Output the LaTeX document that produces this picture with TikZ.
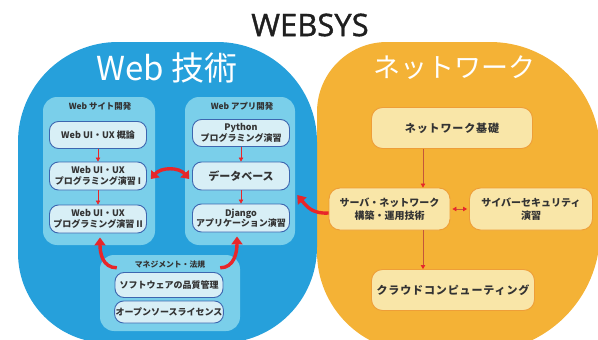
\documentclass[tikz,border=0pt]{standalone}
\usepackage{fontspec}
\setmainfont{Open Sans}
\newfontfamily\titlefont[FakeBold=1.2]{Open Sans}
\newfontfamily\jp{Noto Sans CJK JP}
\newfontfamily\jpw[LetterSpace=8]{Noto Sans CJK JP}
\usetikzlibrary{arrows.meta,calc}
\definecolor{bluebg}{HTML}{26A0DB}
\definecolor{panelc}{HTML}{7ACFEA}
\definecolor{bnodefill}{HTML}{D8EFF6}
\definecolor{bnodeline}{HTML}{3D67B0}
\definecolor{orangebg}{HTML}{F4B236}
\definecolor{onodefill}{HTML}{F9E6A8}
\definecolor{onodeline}{HTML}{EE9E38}
\definecolor{arrred}{HTML}{E8262A}
\definecolor{olinec}{HTML}{C4553A}
\definecolor{txt}{HTML}{333333}
\tikzset{
  panelbox/.style={fill=panelc, rounded corners=14pt, inner sep=0pt},
  grplabel/.style={font=\jp\bfseries\fontsize{8.4}{10}\selectfont, text=txt, inner sep=0pt},
  bnode/.style={draw=bnodeline, fill=bnodefill, line width=0.9pt, rounded corners=9pt,
    minimum width=97pt, minimum height=27pt, align=center, inner sep=1pt,
    font=\jp\bfseries\fontsize{9}{10.5}\selectfont, text=txt},
  onode/.style={draw=onodeline, fill=onodefill, line width=0.9pt, rounded corners=11pt,
    minimum height=41pt, align=center, inner sep=1pt,
    font=\jp\bfseries\fontsize{10}{13}\selectfont, text=txt},
  onodewide/.style={onode, font=\jpw\bfseries\fontsize{11}{13}\selectfont},
  sarrow/.style={draw=arrred, line width=0.6pt, -{Triangle[width=4.5pt,length=4pt]}},
  oarrow/.style={draw=olinec, line width=0.7pt, -{Triangle[width=4.5pt,length=4pt,color=arrred,fill=arrred]}},
  bigarrow/.style={draw=arrred, line width=3.4pt, -{Triangle[width=11pt,length=8pt]}},
  bigtitle/.style={text=white, inner sep=0pt},
}
\begin{document}
\begin{tikzpicture}[x=1pt,y=-1pt]
\useasboundingbox (0,0) rectangle (598,340);
\clip (0,0) rectangle (598,340);
% backgrounds
\fill[orangebg] (317,112) arc[start angle=180,end angle=270,radius=70] -- (490,42)
  arc[start angle=270,end angle=360,radius=110] -- (600,232)
  arc[start angle=0,end angle=90,radius=120] -- (417,352)
  arc[start angle=90,end angle=180,radius=100] -- cycle;
\fill[bluebg] (18,142) arc[start angle=180,end angle=270,radius=100] -- (217,42)
  arc[start angle=270,end angle=360,radius=100] -- (317,247)
  arc[start angle=0,end angle=90,radius=96] -- (108,343)
  arc[start angle=90,end angle=180,radius=90] -- cycle;
% titles
\node[font=\titlefont\fontsize{31}{31}\selectfont, text=black!88] (title) at (310,25) {WEBSYS};
\node[bigtitle, font=\jp\fontsize{33}{33}\selectfont] (webt) at (167,68) {Web 技術};
\node[bigtitle, font=\jp\fontsize{27}{27}\selectfont] (nwt) at (454,68) {ネットワーク};
% panels
\node[panelbox, minimum width=112pt, minimum height=148pt] (sitepanel) at (99,171) {};
\node[panelbox, minimum width=110pt, minimum height=148pt] (apppanel) at (240,171) {};
\node[panelbox, minimum width=140pt, minimum height=76pt] (mgmt) at (170,293) {};
\node[grplabel] (sitelbl) at (100,106) {Web サイト開発};
\node[grplabel] (applbl) at (242,106) {Web アプリ開発};
\node[grplabel, font=\jp\bfseries\fontsize{7.8}{9}\selectfont] (mgmtlbl) at (170,265) {マネジメント・法規};
% blue nodes
\node[bnode] (ux0) at (98,135) {Web UI・UX 概論};
\node[bnode, minimum height=28pt] (ux1) at (98,176) {Web UI・UX\\プログラミング演習 I};
\node[bnode, minimum height=28pt] (ux2) at (98,219) {Web UI・UX\\プログラミング演習 II};
\node[bnode] (py) at (241,133) {Python\\プログラミング演習};
\node[bnode, minimum height=28pt, font=\jp\bfseries\fontsize{11}{12}\selectfont] (db) at (241,176) {データベース};
\node[bnode, minimum height=28pt] (dj) at (241,218) {Django\\アプリケーション演習};
\node[bnode, minimum width=108pt, minimum height=25pt] (qm) at (169,285) {ソフトウェアの品質管理};
\node[bnode, minimum width=108pt, minimum height=22pt] (oss) at (169,312) {オープンソースライセンス};
% orange nodes
\node[onodewide, minimum width=161pt] (netbase) at (452,128) {ネットワーク基礎};
\node[onode, minimum width=121pt, minimum height=42pt] (server) at (389.5,209) {サーバ・ネットワーク\\構築・運用技術};
\node[onode, minimum width=123pt, minimum height=42pt] (cyber) at (531,209) {サイバーセキュリティ\\演習};
\node[onodewide, minimum width=163pt] (cloud) at (453,290) {クラウドコンピューティング};
% small arrows
\draw[sarrow] (ux0) -- (ux1);
\draw[sarrow] (ux1) -- (ux2);
\draw[sarrow] (py) -- (db);
\draw[sarrow] (db) -- (dj);
\coordinate (lx) at (423,0);
\draw[oarrow] (netbase.south -| lx) -- (server.north -| lx);
\draw[oarrow] (server.south -| lx) -- (cloud.north -| lx);
\draw[oarrow, {Triangle[width=4.5pt,length=4pt,color=arrred,fill=arrred]}-{Triangle[width=4.5pt,length=4pt,color=arrred,fill=arrred]}, shorten <=2pt, shorten >=2pt] (server.east) -- (cyber.west);
% big arrows
\draw[bigarrow, {Triangle[width=11pt,length=7pt]}-{Triangle[width=11pt,length=7pt]}]
  ($(ux1.east)+(4,3)$) .. controls +(10,-12) and +(-10,-12) .. ($(db.west)+(-3,3)$);
\draw[bigarrow] ($(mgmt.north west)+(17,13)$) .. controls +(-14,0) and +(0,16) .. ($(ux2.south)+(2,4)$);
\draw[bigarrow] ($(mgmt.north east)+(-20,13)$) .. controls +(14,0) and +(0,16) .. ($(dj.south)+(-4,4)$);
\draw[bigarrow] ($(server.west)+(0,4)$) .. controls +(-16,1) and +(10,12) .. ($(apppanel.east)+(2,24)$);
\end{tikzpicture}
\end{document}
